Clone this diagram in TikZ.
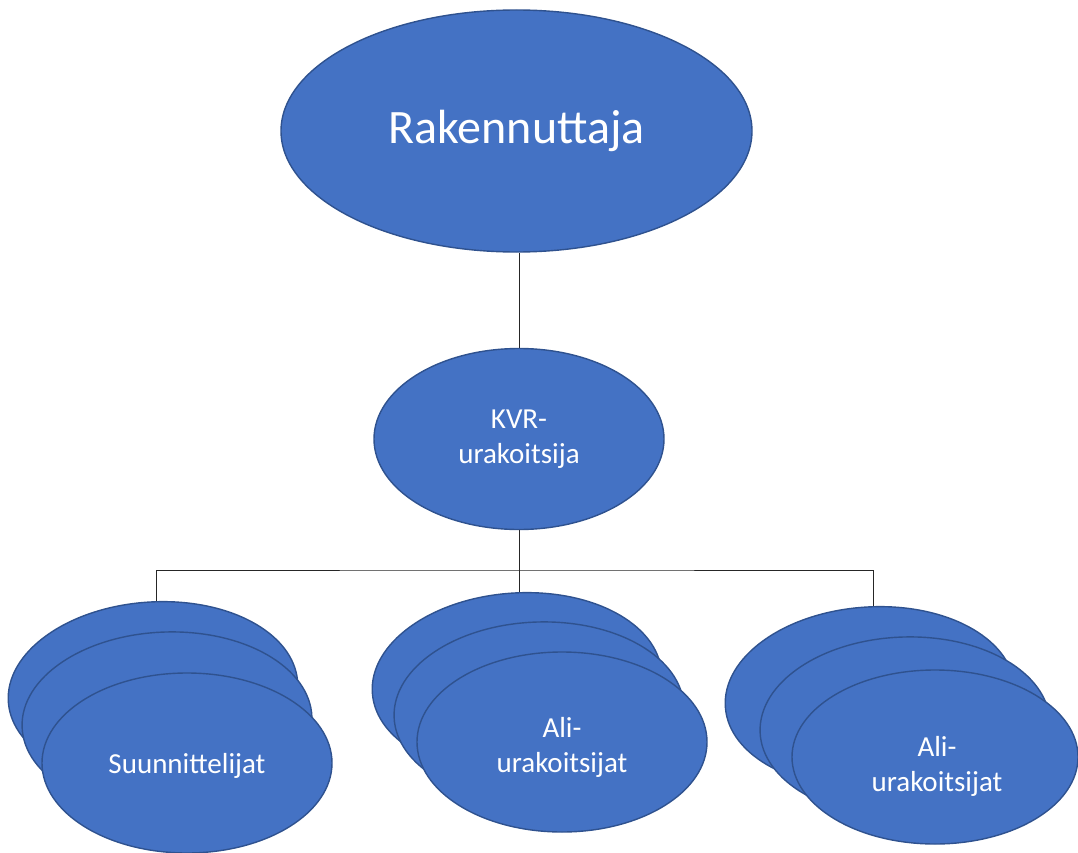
\documentclass[tikz,border=0pt]{standalone}
\usepackage{fontspec}
\setmainfont{Carlito}
\usetikzlibrary{shapes.geometric,backgrounds}
\definecolor{bubble}{HTML}{4472C4}
\definecolor{bubbleedge}{HTML}{2F528F}
\tikzset{
  bubble/.style={ellipse, draw=bubbleedge, fill=bubble, line width=1.4pt,
    inner sep=0pt, text=white, align=center, font=\fontsize{29}{35}\selectfont},
  small/.style={bubble, minimum width=290pt, minimum height=180pt},
  caption/.style={text=white, align=center, inner sep=0pt,
    font=\fontsize{29}{35}\selectfont},
  link/.style={draw=black!85, line width=1pt}
}
\begin{document}
\begin{tikzpicture}[x=1pt, y=-1pt]
\useasboundingbox (0,0) rectangle (1078,853);

% top level
\node[bubble, minimum width=471pt, minimum height=242pt,
      font=\fontsize{48}{58}\selectfont] (top) at (516.5,131) {Rakennuttaja};

% main contractor
\node[small, minimum height=181pt] (kvr) at (519,439) {KVR-\\urakoitsija};

% designers stack
\node[small, rotate=4] (s1) at (153,692) {};
\node[small, rotate=2] (s2) at (167,722) {};
\node[small] (s3) at (187,763) {};
\node[caption] (s3text) at (187,766) {Suunnittelijat};

% subcontractors stack (centre)
\node[small, rotate=4] (m1) at (517,683) {};
\node[small, rotate=2] (m2) at (539,712) {};
\node[small] (m3) at (562,742) {};
\node[caption] (m3text) at (562,747) {Ali-\\urakoitsijat};

% subcontractors stack (right)
\node[small, rotate=4] (r1) at (870,697) {};
\node[small, rotate=2] (r2) at (905,727) {};
\node[small, minimum width=286pt, minimum height=174pt] (r3) at (935,757) {};
\node[caption] (r3text) at (937,766) {Ali-\\urakoitsijat};

% drop points at the top of each back ellipse
\coordinate (s1drop) at ([xshift=3pt]s1.center);
\coordinate (r1drop) at ([xshift=3pt]r1.center);
\coordinate (bus) at (519,570);

% connectors, kept behind the ellipses
\begin{pgfonlayer}{background}
  \path[link] (kvr.north) -- (kvr.north |- top.south);
  \path[link] (kvr.south) -- (kvr.south |- m1.center);
  \path[link] (s1drop) |- (bus) -| (r1drop);
\end{pgfonlayer}
\end{tikzpicture}
\end{document}
